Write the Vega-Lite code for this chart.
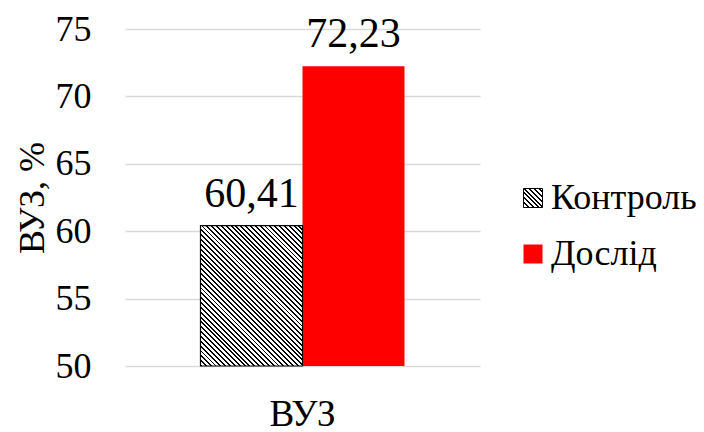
{
  "$schema": "https://vega.github.io/schema/vega-lite/v6.json",
  "width": 355,
  "height": 337,
  "autosize": {"type": "none"},
  "padding": {"left": 125, "top": 29, "right": 224, "bottom": 66},
  "background": "#ffffff",
  "config": {
    "font": "'Liberation Serif', 'Times New Roman', 'DejaVu Serif', serif",
    "axis": {"labelFont": "'Liberation Serif', 'Times New Roman', 'DejaVu Serif', serif", "titleFont": "'Liberation Serif', 'Times New Roman', 'DejaVu Serif', serif"},
    "legend": {"labelFont": "'Liberation Serif', 'Times New Roman', 'DejaVu Serif', serif", "titleFont": "'Liberation Serif', 'Times New Roman', 'DejaVu Serif', serif"},
    "view": {"stroke": null},
    "locale": {"number": {"decimal": ",", "thousands": " ", "grouping": [3], "currency": ["", ""]}}
  },
  "data": {
    "values": [
      {"group": "ВУЗ", "series": "Контроль", "value": 60.41},
      {"group": "ВУЗ", "series": "Дослід", "value": 72.23}
    ]
  },
  "encoding": {
    "x": {
      "field": "group", "type": "nominal",
      "scale": {"paddingInner": 0, "paddingOuter": 0.37},
      "axis": {"title": null, "domain": false, "ticks": false, "labelAngle": 0, "labelFontSize": 37, "labelColor": "#000", "labelPadding": 30}
    },
    "xOffset": {
      "field": "series", "type": "nominal",
      "scale": {"domain": ["Контроль", "Дослід"], "paddingInner": 0, "paddingOuter": 0}
    },
    "y": {
      "field": "value", "type": "quantitative",
      "scale": {"domain": [50, 75], "nice": false, "zero": false},
      "axis": {
        "title": "ВУЗ, %", "titleFontSize": 36, "titleFontWeight": "normal", "titleColor": "#000", "titlePadding": 4,
        "values": [50, 55, 60, 65, 70, 75],
        "domain": false, "ticks": false,
        "labelFontSize": 36, "labelColor": "#000", "labelPadding": 34,
        "grid": true, "gridColor": "#d9d9d9", "gridWidth": 1.5
      }
    }
  },
  "layer": [
    {
      "mark": {"type": "bar"},
      "encoding": {
        "y2": {"datum": 50},
        "fill": {
          "field": "series", "type": "nominal",
          "scale": {"domain": ["Контроль", "Дослід"], "range": [
            {"expr": "{gradient: 'linear', x1: 0, y1: 1, x2: 1, y2: 0, stops: [{offset: 0, color: '#000'}, {offset: 0.05, color: '#000'}, {offset: 0.05, color: '#fff'}, {offset: 0.125, color: '#fff'}, {offset: 0.125, color: '#000'}, {offset: 0.175, color: '#000'}, {offset: 0.175, color: '#fff'}, {offset: 0.25, color: '#fff'}, {offset: 0.25, color: '#000'}, {offset: 0.3, color: '#000'}, {offset: 0.3, color: '#fff'}, {offset: 0.375, color: '#fff'}, {offset: 0.375, color: '#000'}, {offset: 0.425, color: '#000'}, {offset: 0.425, color: '#fff'}, {offset: 0.5, color: '#fff'}, {offset: 0.5, color: '#000'}, {offset: 0.55, color: '#000'}, {offset: 0.55, color: '#fff'}, {offset: 0.625, color: '#fff'}, {offset: 0.625, color: '#000'}, {offset: 0.675, color: '#000'}, {offset: 0.675, color: '#fff'}, {offset: 0.75, color: '#fff'}, {offset: 0.75, color: '#000'}, {offset: 0.8, color: '#000'}, {offset: 0.8, color: '#fff'}, {offset: 0.875, color: '#fff'}, {offset: 0.875, color: '#000'}, {offset: 0.925, color: '#000'}, {offset: 0.925, color: '#fff'}, {offset: 1, color: '#fff'}]}"},
            "#ff0000"
          ]},
          "legend": {
            "title": null, "orient": "none", "legendX": 390, "legendY": 151,
            "padding": 0, "symbolType": "square", "symbolSize": 361, "symbolStrokeWidth": 1,
            "labelFontSize": 36, "labelColor": "#000", "labelOffset": 0, "rowPadding": 20,
            "encode": {
              "symbols": {
                "update": {
                  "stroke": [
                    {"test": "datum.value === 'Контроль'", "value": "#000000"},
                    {"value": "transparent"}
                  ],
                  "opacity": {"value": 1}
                }
              }
            }
          }
        }
      }
    },
    {
      "transform": [{"filter": "datum.series === 'Контроль'"}],
      "mark": {
        "type": "bar", "stroke": "#000000", "strokeWidth": 1.2,
        "fill": {"gradient": "linear", "x1": 0, "y1": 1, "x2": 0.8214, "y2": -0.1298, "stops": [
          {"offset": 0, "color": "#000"}, {"offset": 0.008, "color": "#000"}, {"offset": 0.008, "color": "#fff"}, {"offset": 0.02, "color": "#fff"},
          {"offset": 0.02, "color": "#000"}, {"offset": 0.028, "color": "#000"}, {"offset": 0.028, "color": "#fff"}, {"offset": 0.04, "color": "#fff"},
          {"offset": 0.04, "color": "#000"}, {"offset": 0.048, "color": "#000"}, {"offset": 0.048, "color": "#fff"}, {"offset": 0.06, "color": "#fff"},
          {"offset": 0.06, "color": "#000"}, {"offset": 0.068, "color": "#000"}, {"offset": 0.068, "color": "#fff"}, {"offset": 0.08, "color": "#fff"},
          {"offset": 0.08, "color": "#000"}, {"offset": 0.088, "color": "#000"}, {"offset": 0.088, "color": "#fff"}, {"offset": 0.1, "color": "#fff"},
          {"offset": 0.1, "color": "#000"}, {"offset": 0.108, "color": "#000"}, {"offset": 0.108, "color": "#fff"}, {"offset": 0.12, "color": "#fff"},
          {"offset": 0.12, "color": "#000"}, {"offset": 0.128, "color": "#000"}, {"offset": 0.128, "color": "#fff"}, {"offset": 0.14, "color": "#fff"},
          {"offset": 0.14, "color": "#000"}, {"offset": 0.148, "color": "#000"}, {"offset": 0.148, "color": "#fff"}, {"offset": 0.16, "color": "#fff"},
          {"offset": 0.16, "color": "#000"}, {"offset": 0.168, "color": "#000"}, {"offset": 0.168, "color": "#fff"}, {"offset": 0.18, "color": "#fff"},
          {"offset": 0.18, "color": "#000"}, {"offset": 0.188, "color": "#000"}, {"offset": 0.188, "color": "#fff"}, {"offset": 0.2, "color": "#fff"},
          {"offset": 0.2, "color": "#000"}, {"offset": 0.208, "color": "#000"}, {"offset": 0.208, "color": "#fff"}, {"offset": 0.22, "color": "#fff"},
          {"offset": 0.22, "color": "#000"}, {"offset": 0.228, "color": "#000"}, {"offset": 0.228, "color": "#fff"}, {"offset": 0.24, "color": "#fff"},
          {"offset": 0.24, "color": "#000"}, {"offset": 0.248, "color": "#000"}, {"offset": 0.248, "color": "#fff"}, {"offset": 0.26, "color": "#fff"},
          {"offset": 0.26, "color": "#000"}, {"offset": 0.268, "color": "#000"}, {"offset": 0.268, "color": "#fff"}, {"offset": 0.28, "color": "#fff"},
          {"offset": 0.28, "color": "#000"}, {"offset": 0.288, "color": "#000"}, {"offset": 0.288, "color": "#fff"}, {"offset": 0.3, "color": "#fff"},
          {"offset": 0.3, "color": "#000"}, {"offset": 0.308, "color": "#000"}, {"offset": 0.308, "color": "#fff"}, {"offset": 0.32, "color": "#fff"},
          {"offset": 0.32, "color": "#000"}, {"offset": 0.328, "color": "#000"}, {"offset": 0.328, "color": "#fff"}, {"offset": 0.34, "color": "#fff"},
          {"offset": 0.34, "color": "#000"}, {"offset": 0.348, "color": "#000"}, {"offset": 0.348, "color": "#fff"}, {"offset": 0.36, "color": "#fff"},
          {"offset": 0.36, "color": "#000"}, {"offset": 0.368, "color": "#000"}, {"offset": 0.368, "color": "#fff"}, {"offset": 0.38, "color": "#fff"},
          {"offset": 0.38, "color": "#000"}, {"offset": 0.388, "color": "#000"}, {"offset": 0.388, "color": "#fff"}, {"offset": 0.4, "color": "#fff"},
          {"offset": 0.4, "color": "#000"}, {"offset": 0.408, "color": "#000"}, {"offset": 0.408, "color": "#fff"}, {"offset": 0.42, "color": "#fff"},
          {"offset": 0.42, "color": "#000"}, {"offset": 0.428, "color": "#000"}, {"offset": 0.428, "color": "#fff"}, {"offset": 0.44, "color": "#fff"},
          {"offset": 0.44, "color": "#000"}, {"offset": 0.448, "color": "#000"}, {"offset": 0.448, "color": "#fff"}, {"offset": 0.46, "color": "#fff"},
          {"offset": 0.46, "color": "#000"}, {"offset": 0.468, "color": "#000"}, {"offset": 0.468, "color": "#fff"}, {"offset": 0.48, "color": "#fff"},
          {"offset": 0.48, "color": "#000"}, {"offset": 0.488, "color": "#000"}, {"offset": 0.488, "color": "#fff"}, {"offset": 0.5, "color": "#fff"},
          {"offset": 0.5, "color": "#000"}, {"offset": 0.508, "color": "#000"}, {"offset": 0.508, "color": "#fff"}, {"offset": 0.52, "color": "#fff"},
          {"offset": 0.52, "color": "#000"}, {"offset": 0.528, "color": "#000"}, {"offset": 0.528, "color": "#fff"}, {"offset": 0.54, "color": "#fff"},
          {"offset": 0.54, "color": "#000"}, {"offset": 0.548, "color": "#000"}, {"offset": 0.548, "color": "#fff"}, {"offset": 0.56, "color": "#fff"},
          {"offset": 0.56, "color": "#000"}, {"offset": 0.568, "color": "#000"}, {"offset": 0.568, "color": "#fff"}, {"offset": 0.58, "color": "#fff"},
          {"offset": 0.58, "color": "#000"}, {"offset": 0.588, "color": "#000"}, {"offset": 0.588, "color": "#fff"}, {"offset": 0.6, "color": "#fff"},
          {"offset": 0.6, "color": "#000"}, {"offset": 0.608, "color": "#000"}, {"offset": 0.608, "color": "#fff"}, {"offset": 0.62, "color": "#fff"},
          {"offset": 0.62, "color": "#000"}, {"offset": 0.628, "color": "#000"}, {"offset": 0.628, "color": "#fff"}, {"offset": 0.64, "color": "#fff"},
          {"offset": 0.64, "color": "#000"}, {"offset": 0.648, "color": "#000"}, {"offset": 0.648, "color": "#fff"}, {"offset": 0.66, "color": "#fff"},
          {"offset": 0.66, "color": "#000"}, {"offset": 0.668, "color": "#000"}, {"offset": 0.668, "color": "#fff"}, {"offset": 0.68, "color": "#fff"},
          {"offset": 0.68, "color": "#000"}, {"offset": 0.688, "color": "#000"}, {"offset": 0.688, "color": "#fff"}, {"offset": 0.7, "color": "#fff"},
          {"offset": 0.7, "color": "#000"}, {"offset": 0.708, "color": "#000"}, {"offset": 0.708, "color": "#fff"}, {"offset": 0.72, "color": "#fff"},
          {"offset": 0.72, "color": "#000"}, {"offset": 0.728, "color": "#000"}, {"offset": 0.728, "color": "#fff"}, {"offset": 0.74, "color": "#fff"},
          {"offset": 0.74, "color": "#000"}, {"offset": 0.748, "color": "#000"}, {"offset": 0.748, "color": "#fff"}, {"offset": 0.76, "color": "#fff"},
          {"offset": 0.76, "color": "#000"}, {"offset": 0.768, "color": "#000"}, {"offset": 0.768, "color": "#fff"}, {"offset": 0.78, "color": "#fff"},
          {"offset": 0.78, "color": "#000"}, {"offset": 0.788, "color": "#000"}, {"offset": 0.788, "color": "#fff"}, {"offset": 0.8, "color": "#fff"},
          {"offset": 0.8, "color": "#000"}, {"offset": 0.808, "color": "#000"}, {"offset": 0.808, "color": "#fff"}, {"offset": 0.82, "color": "#fff"},
          {"offset": 0.82, "color": "#000"}, {"offset": 0.828, "color": "#000"}, {"offset": 0.828, "color": "#fff"}, {"offset": 0.84, "color": "#fff"},
          {"offset": 0.84, "color": "#000"}, {"offset": 0.848, "color": "#000"}, {"offset": 0.848, "color": "#fff"}, {"offset": 0.86, "color": "#fff"},
          {"offset": 0.86, "color": "#000"}, {"offset": 0.868, "color": "#000"}, {"offset": 0.868, "color": "#fff"}, {"offset": 0.88, "color": "#fff"},
          {"offset": 0.88, "color": "#000"}, {"offset": 0.888, "color": "#000"}, {"offset": 0.888, "color": "#fff"}, {"offset": 0.9, "color": "#fff"},
          {"offset": 0.9, "color": "#000"}, {"offset": 0.908, "color": "#000"}, {"offset": 0.908, "color": "#fff"}, {"offset": 0.92, "color": "#fff"},
          {"offset": 0.92, "color": "#000"}, {"offset": 0.928, "color": "#000"}, {"offset": 0.928, "color": "#fff"}, {"offset": 0.94, "color": "#fff"},
          {"offset": 0.94, "color": "#000"}, {"offset": 0.948, "color": "#000"}, {"offset": 0.948, "color": "#fff"}, {"offset": 0.96, "color": "#fff"},
          {"offset": 0.96, "color": "#000"}, {"offset": 0.968, "color": "#000"}, {"offset": 0.968, "color": "#fff"}, {"offset": 0.98, "color": "#fff"},
          {"offset": 0.98, "color": "#000"}, {"offset": 0.988, "color": "#000"}, {"offset": 0.988, "color": "#fff"}, {"offset": 1, "color": "#fff"}
        ]}
      },
      "encoding": {
        "y2": {"datum": 50}
      }
    },
    {
      "mark": {"type": "text", "font": "'Liberation Serif', 'Times New Roman', 'DejaVu Serif', serif", "fontSize": 42, "color": "#000", "baseline": "alphabetic", "dy": -19},
      "encoding": {
        "text": {"field": "value", "type": "quantitative", "format": ".2f"}
      }
    }
  ]
}
